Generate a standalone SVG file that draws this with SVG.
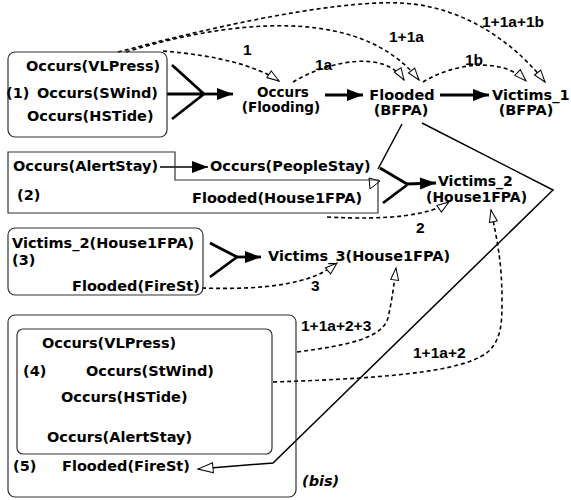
<svg xmlns="http://www.w3.org/2000/svg" width="571" height="500" viewBox="0 0 571 500">
<style>
text{font-family:"DejaVu Sans","Liberation Sans",sans-serif;font-weight:bold;font-size:14.5px;fill:#000}
text.lbl{font-family:"Liberation Sans",Arial,sans-serif;font-size:15.5px}
text.sm{font-size:14px}
text.xs{font-size:13.5px}
text.bis{font-style:italic}
.box{fill:none;stroke:#333;stroke-width:1.2}
.thick{fill:none;stroke:#000;stroke-width:2.8}
.thin{fill:none;stroke:#000;stroke-width:1.5}
.dash{fill:none;stroke:#000;stroke-width:1.6;stroke-dasharray:4 3;marker-end:url(#open)}
</style>
<defs>
<marker id="open" markerUnits="userSpaceOnUse" markerWidth="14" markerHeight="10" refX="12" refY="4" orient="auto" overflow="visible">
<path d="M0,0 L12,4 L0,8 z" fill="#fff" stroke="#000" stroke-width="1" stroke-dasharray="none"/>
</marker>
<marker id="openbig" markerUnits="userSpaceOnUse" markerWidth="18" markerHeight="12" refX="15" refY="5" orient="auto" overflow="visible">
<path d="M0,0 L15,5 L0,10 z" fill="#fff" stroke="#000" stroke-width="1"/>
</marker>
<marker id="fill" markerUnits="userSpaceOnUse" markerWidth="18" markerHeight="14" refX="16" refY="6" orient="auto" overflow="visible">
<path d="M0,0 L16,6 L0,12 z" fill="#000"/>
</marker>
</defs>

<g id="connectors">
<path class="thick" d="M172,65 L204,94 M167,94 L204,94 M172,119 L204,94"/>
<path class="thick" d="M204,94 L233,94" marker-end="url(#fill)"/>
<path class="thick" d="M325,95 L363,95" marker-end="url(#fill)"/>
<path class="thick" d="M440,95 L489,95" marker-end="url(#fill)"/>
<path class="thin" d="M160,167 L208,167" marker-end="url(#fill)" stroke-width="2"/>
<path class="thin" d="M402,124 L378,169"/>
<polygon points="369,178 370,189 380,181" fill="#fff" stroke="#000" stroke-width="1"/>
<path class="thick" d="M380,168 L407,184 M383,203 L407,185"/>
<path class="thick" d="M406,184 L436,183" marker-end="url(#fill)"/>
<path class="thick" d="M210,243 L237,257 M210,277 L237,257"/>
<path class="thick" d="M236,257 L261,257" marker-end="url(#fill)"/>
<path class="thin" d="M422,123 L553,190 L273,463 L198,469" marker-end="url(#openbig)"/>
<path class="dash" d="M118,52 C200,30 330,0 400,3 C470,6 520,50 545,82"/>
<path class="dash" d="M126,52 C230,20 360,5 419,80"/>
<path class="dash" d="M163,51 Q245,58 279,81"/>
<path class="dash" d="M293,82 C330,60 385,50 404,80"/>
<path class="dash" d="M423,82 C450,65 500,55 526,81"/>
<path class="dash" d="M327,217 Q420,222 449,202"/>
<path class="dash" d="M202,288 C260,290 312,285 337,263"/>
<path class="dash" d="M297,352 C350,345 382,338 388,318 C392,300 394,285 396,268"/>
<path class="dash" d="M273,382 C400,378 470,370 490,350 C502,337 502,320 502,300 C502,262 497,240 491,210"/>
<text class="lbl" x="243" y="55">1</text>
<text class="lbl" x="315" y="70">1a</text>
<text class="lbl" x="389" y="42">1+1a</text>
<text class="lbl" x="482" y="27">1+1a+1b</text>
<text class="lbl" x="465" y="65">1b</text>
<text class="lbl" x="416" y="233">2</text>
<text class="lbl" x="311" y="291">3</text>
<text class="lbl" x="301" y="331">1+1a+2+3</text>
<text class="lbl" x="413" y="358">1+1a+2</text>
</g>

<g id="box1">
<rect class="box" x="8" y="52" width="159" height="85" rx="7"/>
<text x="26" y="71">Occurs(VLPress)</text>
<text x="6" y="98">(1)</text>
<text x="37" y="98">Occurs(SWind)</text>
<text x="27" y="121">Occurs(HSTide)</text>
</g>

<g id="occurs-flooding">
<text class="xs" x="283" y="97" text-anchor="middle">Occurs</text>
<text class="xs" x="281" y="112" text-anchor="middle">(Flooding)</text>
</g>

<g id="flooded-bfpa">
<text x="402" y="100" text-anchor="middle">Flooded</text>
<text x="401" y="115" text-anchor="middle">(BFPA)</text>
</g>

<g id="victims1">
<text x="492" y="100">Victims_1</text>
<text x="526" y="115" text-anchor="middle">(BFPA)</text>
</g>

<g id="box2">
<path class="box" d="M8,152 L175,152 L175,180 L378,180 L378,213 L8,213 Z"/>
<text x="13" y="171">Occurs(AlertStay)</text>
<text x="210" y="171">Occurs(PeopleStay)</text>
<text x="17" y="200">(2)</text>
<text x="192" y="203">Flooded(House1FPA)</text>
</g>

<g id="victims2">
<text class="sm" x="438" y="186">Victims_2</text>
<text class="sm" x="426" y="202">(House1FPA)</text>
</g>

<g id="box3">
<rect class="box" x="8" y="228" width="195" height="67" rx="7"/>
<text x="12" y="248">Victims_2(House1FPA)</text>
<text x="12" y="265">(3)</text>
<text x="72" y="291">Flooded(FireSt)</text>
</g>

<g id="victims3">
<text x="268" y="261">Victims_3(House1FPA)</text>
</g>

<g id="box45">
<rect class="box" x="8" y="315" width="288" height="182" rx="7"/>
<rect class="box" x="17" y="329" width="255" height="125" rx="6"/>
<text x="42" y="348">Occurs(VLPress)</text>
<text x="23" y="376">(4)</text>
<text x="86" y="376">Occurs(StWind)</text>
<text x="61" y="402">Occurs(HSTide)</text>
<text x="47" y="442">Occurs(AlertStay)</text>
<text x="13" y="471">(5)</text>
<text x="62" y="471">Flooded(FireSt)</text>
<text class="bis" x="302" y="486">(bis)</text>
</g>
</svg>
